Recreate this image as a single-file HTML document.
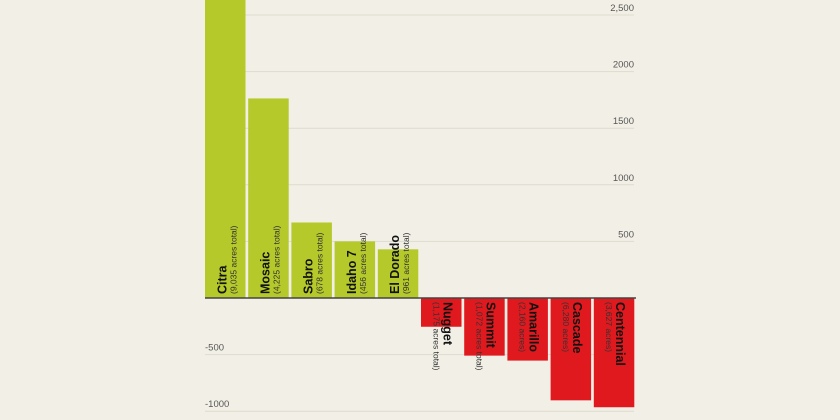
<!DOCTYPE html>
<html><head><meta charset="utf-8"><style>
html,body{margin:0;padding:0;background:#f2f0e6;}
svg{display:block;font-family:"Liberation Sans",sans-serif;}
</style></head><body>
<svg id="chart" width="840" height="420" viewBox="0 0 840 420" xmlns="http://www.w3.org/2000/svg">
<rect width="840" height="420" fill="#f2f0e6"/>
<g id="grid"></g><g id="bars"></g><g id="labels"></g>
</svg>
<script>
const categories=["Citra","Mosaic","Sabro","Idaho 7","El Dorado","Nugget","Summit","Amarillo","Cascade","Centennial"];
const subtitles=["(9,035 acres total)","(4,225 acres total)","(678 acres total)","(456 acres total)","(961 acres total)","(1,175 acres total)","(1,072 acres total)","(2,160 acres)","(6,280 acres)","(3,627 acres)"];
const values=[2650,1763,667,500,430,-254,-509,-553,-904,-965];
const ticks=[2500,2000,1500,1000,500,-500,-1000];
const tickLabels=["2,500","2000","1500","1000","500","-500","-1000"];
const NS="http://www.w3.org/2000/svg";
const y0=298, k=56.6/500;
const y=v=>y0-v*k;
const x=i=>205+i*43.2;
const bw=40.5;
function mk(t,a,p){const e=document.createElementNS(NS,t);for(const n in a)e.setAttribute(n,a[n]);p.appendChild(e);return e;}
const G=document.getElementById('grid'),B=document.getElementById('bars'),L=document.getElementById('labels');
ticks.forEach((t,i)=>{
 const l=mk('line',{x1:205,x2:634,y1:y(t),y2:y(t),stroke:'#dddbcf','stroke-width':1},G);
 
 
 const neg=t<0;
 const tx=mk('text',{x:neg?205:634,y:y(t)-4,'text-anchor':neg?'start':'end','font-size':9.5,fill:'#555'},G);
 tx.textContent=tickLabels[i];
 
 
});
values.forEach((v,i)=>{
 const top=Math.min(y(v),y0),h=Math.abs(y(v)-y0);
 const r=mk('rect',{x:x(i),y:top,width:bw,height:h,fill:v>=0?'#b5c92a':'#e0191f'},B);
 
 
 const cx=x(i)+bw/2;
 let g;
 if(v>=0){g=mk('g',{transform:`translate(${cx},${y0-4}) rotate(-90)`},L);}
 else{g=mk('g',{transform:`translate(${cx},${y0+4}) rotate(90)`},L);}
 
 
 const t1=mk('text',{x:0,y:v>=0?1:-2,'font-size':12.5,'font-weight':'bold',fill:'#111'},g);
 t1.textContent=categories[i];
 const t2=mk('text',{x:0,y:v>=0?11:8,'font-size':8.5,fill:'#333'},g);
 t2.textContent=subtitles[i];
});
const z=mk('line',{x1:205,x2:636,y1:y0,y2:y0,stroke:'#444','stroke-width':1.5},B);


</script>
</body></html>
